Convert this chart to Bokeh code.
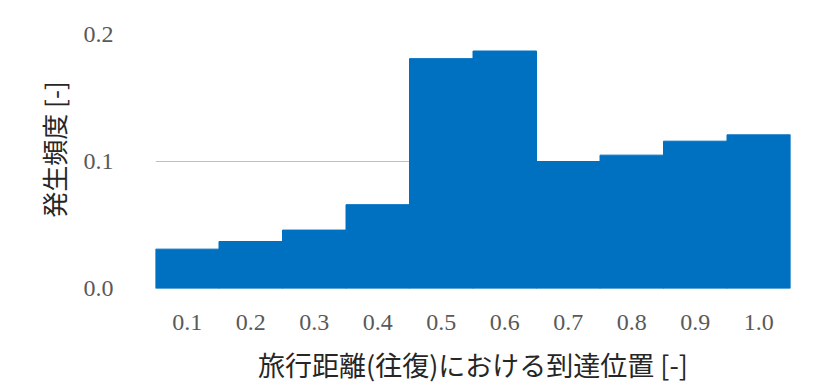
from bokeh.plotting import figure
from bokeh.models import FixedTicker, ColumnDataSource
from bokeh.embed import file_html
from bokeh.resources import INLINE

categories = ["0.1", "0.2", "0.3", "0.4", "0.5", "0.6", "0.7", "0.8", "0.9", "1.0"]
frequency = [0.031, 0.037, 0.046, 0.066, 0.181, 0.187, 0.100, 0.105, 0.116, 0.121]
y_ticks = [0.0, 0.1, 0.2]
y_tick_labels = {0.0: "0.0", 0.1: "0.1", 0.2: "0.2"}

src = ColumnDataSource(dict(x=categories, top=frequency))

p = figure(width=818, height=387, x_range=categories, y_range=(0, 0.2189),
           output_backend="svg", toolbar_location=None,
           min_border_left=155, min_border_right=28, min_border_top=10, min_border_bottom=99)
p.outline_line_color = None
p.vbar(x="x", top="top", width=1.0, source=src, fill_color="#0070C0", line_color="#0070C0")

p.yaxis.ticker = FixedTicker(ticks=y_ticks)
p.yaxis.major_label_overrides = y_tick_labels
p.ygrid.ticker = FixedTicker(ticks=[0.1])
p.ygrid.grid_line_color = "#bfbfbf"
p.ygrid.level = "underlay"
p.xgrid.grid_line_color = None

for ax in (p.xaxis[0], p.yaxis[0]):
    ax.axis_line_color = None
    ax.major_tick_line_color = None
    ax.minor_tick_line_color = None
    ax.major_label_text_font = "Liberation Serif"
    ax.major_label_text_font_size = "24px"
    ax.major_label_text_color = "#595959"
    ax.axis_label_text_font = "Noto Sans CJK JP"
    ax.axis_label_text_font_style = "normal"
    ax.axis_label_text_color = "#262626"

p.xaxis.major_label_standoff = 20
p.yaxis.major_label_standoff = 36
p.xaxis.axis_label = "旅行距離(往復)における到達位置 [-]"
p.xaxis.axis_label_text_font_size = "27px"
p.xaxis.axis_label_standoff = 12
p.yaxis.axis_label = "発生頻度 [-]"
p.yaxis.axis_label_text_font_size = "26px"
p.yaxis.axis_label_standoff = 9

open("out.html", "w").write(file_html(p, INLINE))
